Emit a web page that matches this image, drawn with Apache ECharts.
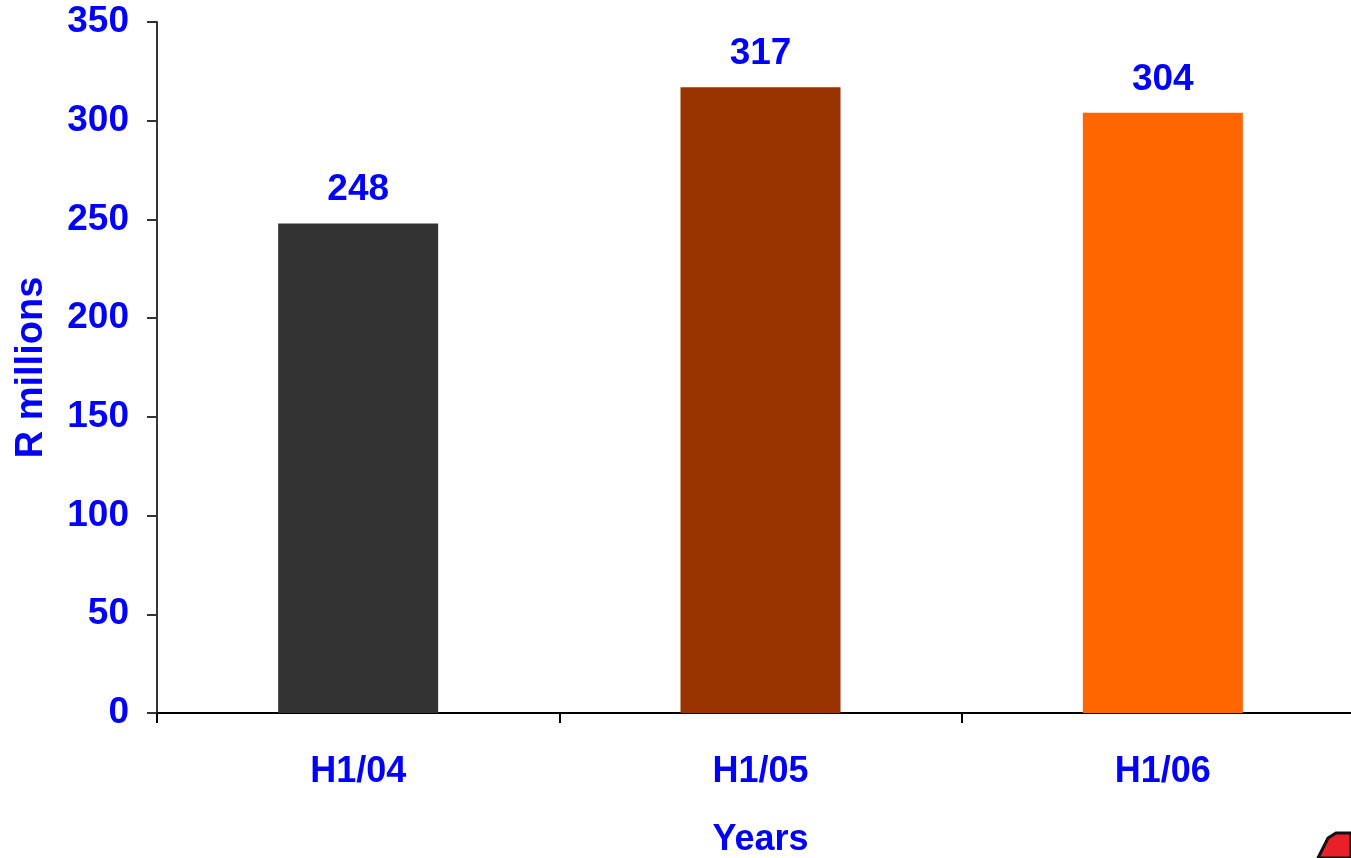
<!DOCTYPE html>
<html>
<head>
<meta charset="utf-8">
<script src="https://cdn.jsdelivr.net/npm/echarts@6/dist/echarts.min.js"></script>
<style>
  html, body { margin: 0; padding: 0; background: #fff; overflow: hidden; }
  #main { width: 1351px; height: 858px; }
</style>
</head>
<body>
<div id="main"></div>
<script>
// data
var categories = ['H1/04', 'H1/05', 'H1/06'];
var values = [248, 317, 304];
var barColors = ['#333333', '#993300', '#FF6600'];
var yTicks = [0, 50, 100, 150, 200, 250, 300, 350];

var blue = '#0000FF';
var font = '"Liberation Sans", Arial, sans-serif';

var myChart = echarts.init(document.getElementById('main'));

var option = {
    backgroundColor: '#fff',
    animation: false,
    grid: {
        left: 157,
        right: -13,
        top: 22,
        bottom: 145,
        outerBoundsMode: 'none'
    },
    xAxis: {
        type: 'category',
        data: categories,
        name: 'Years',
        nameLocation: 'middle',
        nameGap: 109,
        nameTextStyle: { color: blue, fontSize: 36, fontWeight: 'bold', fontFamily: font },
        axisLine: { lineStyle: { color: '#000', width: 2 } },
        axisTick: { show: true, length: 10, lineStyle: { color: '#000', width: 2 } },
        axisLabel: { color: blue, fontSize: 36, fontWeight: 'bold', fontFamily: font, margin: 41 }
    },
    yAxis: {
        type: 'value',
        min: yTicks[0],
        max: yTicks[yTicks.length - 1],
        interval: 50,
        name: 'R millions',
        nameLocation: 'middle',
        nameGap: 106,
        nameRotate: 90,
        nameTextStyle: { color: blue, fontSize: 38, fontWeight: 'bold', fontFamily: font },
        axisLine: { show: true, lineStyle: { color: '#333', width: 2 } },
        axisTick: { show: true, length: 10, lineStyle: { color: '#333', width: 2 } },
        splitLine: { show: false },
        axisLabel: { color: blue, fontSize: 37, fontWeight: 'bold', fontFamily: font, margin: 28 }
    },
    series: [
        {
            type: 'bar',
            barWidth: 160,
            data: values.map(function (v, i) {
                return { value: v, itemStyle: { color: barColors[i] } };
            }),
            label: {
                show: true,
                position: 'top',
                distance: 15,
                color: blue,
                fontSize: 37,
                fontWeight: 'bold',
                fontFamily: font
            }
        }
    ],
    // corner of a logo, cut off by the slide edge
    graphic: [
        {
            type: 'polygon',
            shape: { points: [[1318, 858], [1328, 838], [1336, 833], [1351, 833], [1351, 858]] },
            style: { fill: '#E8202A', stroke: '#111', lineWidth: 3 }
        }
    ]
};

myChart.setOption(option);
</script>
</body>
</html>
